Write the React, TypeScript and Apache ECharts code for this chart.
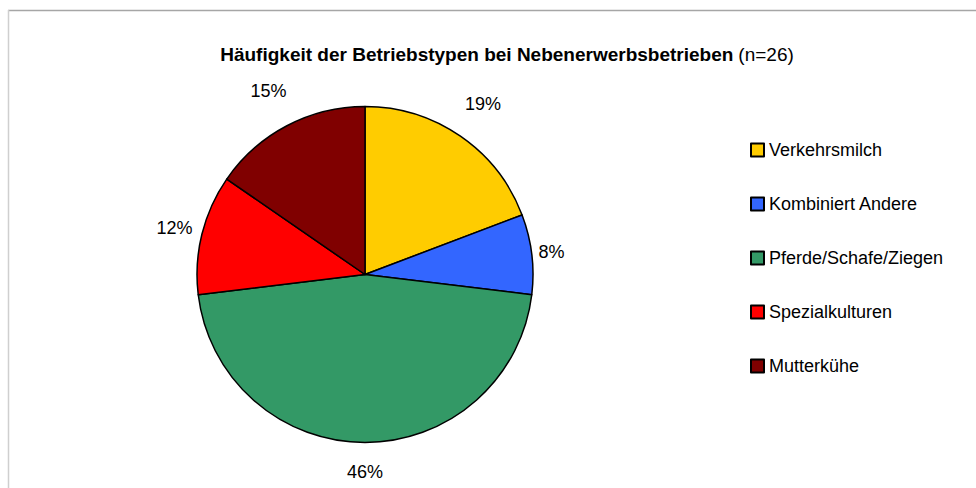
import React, { useEffect, useRef } from "react";
import * as echarts from "echarts";

const categories = ["Verkehrsmilch", "Kombiniert Andere", "Pferde/Schafe/Ziegen", "Spezialkulturen", "Mutterkühe"];
const counts = [5, 2, 12, 3, 4];
const colors = ["#FFCC00", "#3366FF", "#339966", "#FF0000", "#800000"];
const titleBold = "Häufigkeit der Betriebstypen bei Nebenerwerbsbetrieben";
const titleNormal = "(n=26)";

const FONT = "'Liberation Sans', Arial, sans-serif";
const CX = 365;
const CY = 274.5;
const R = 168;

export default function App() {
  const ref = useRef<HTMLDivElement>(null);
  useEffect(() => {
    if (!ref.current) return;
    const chart = echarts.init(ref.current, null, { renderer: "svg" });
    const total = counts.reduce((a, b) => a + b, 0);
    const cum: number[] = [];
    counts.reduce((acc, v, i) => { cum[i] = acc; return acc + v; }, 0);
    chart.setOption({
      animation: false,
      backgroundColor: "#ffffff",
      title: {
        text: `{b|${titleBold}} {n|${titleNormal}}`,
        left: 502,
        top: 40,
        textAlign: "center",
        textStyle: {
          rich: {
            b: { fontFamily: FONT, fontWeight: "bold", fontSize: 19, color: "#000" },
            n: { fontFamily: FONT, fontWeight: "normal", fontSize: 19, color: "#000" },
          },
        },
      },
      legend: {
        orient: "vertical",
        left: 745,
        top: 135,
        itemWidth: 13,
        itemHeight: 13,
        itemGap: 34,
        icon: "rect",
        data: categories,
        textStyle: { fontFamily: FONT, fontSize: 18, color: "#000", lineHeight: 20 },
      },
      graphic: [
        { type: "line", shape: { x1: 8, y1: 10.5, x2: 976, y2: 10.5 }, style: { stroke: "#a6a6a6", lineWidth: 1.5 } },
        { type: "line", shape: { x1: 8.5, y1: 10, x2: 8.5, y2: 488 }, style: { stroke: "#cfcfcf", lineWidth: 1.5 } },
      ],
      series: [
        {
          type: "pie",
          center: [CX, CY],
          radius: R,
          startAngle: 90,
          clockwise: true,
          avoidLabelOverlap: false,
          data: categories.map((c, i) => ({ name: c, value: counts[i], itemStyle: { color: colors[i] } })),
          itemStyle: { borderColor: "#000", borderWidth: 1.5 },
          emphasis: { disabled: true },
          label: {
            show: true,
            position: "outside",
            formatter: (p: any) => `${Math.round((p.value / total) * 100)}%`,
            fontFamily: FONT,
            fontSize: 18,
            lineHeight: 16,
            color: "#000",
          },
          labelLine: { show: false },
          labelLayout: (params: any) => {
            const i = params.dataIndex;
            const mid = ((cum[i] + counts[i] / 2) / total) * Math.PI * 2;
            const dx = Math.sin(mid);
            const dy = -Math.cos(mid);
            const w = params.labelRect.width;
            const h = params.labelRect.height;
            const support = (Math.abs(dx) * w) / 2 + (Math.abs(dy) * h) / 2;
            const gap = 3 + 20 * Math.abs(dy) - 3 * dy;
            const d = R + gap + support;
            return { x: CX + dx * d, y: CY + dy * d, align: "center", verticalAlign: "middle" };
          },
        },
      ],
    });
    return () => chart.dispose();
  }, []);
  return <div ref={ref} style={{ position: "absolute", left: 0, top: 0, width: 976, height: 488 }} />;
}
